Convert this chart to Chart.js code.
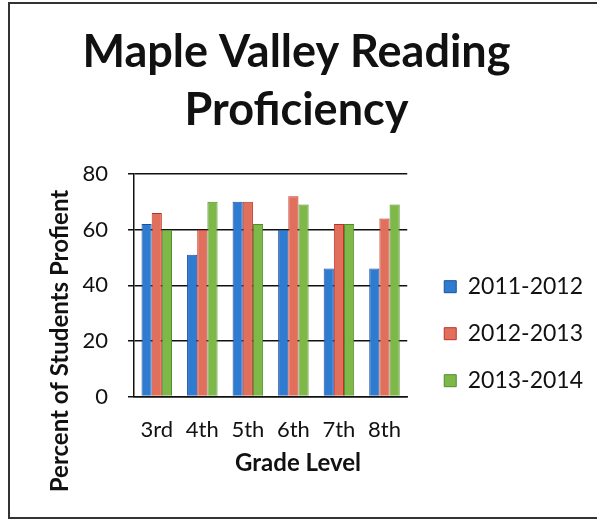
<!DOCTYPE html>
<html>
<head>
<meta charset="utf-8">
<script src="https://cdn.jsdelivr.net/npm/chart.js@4/dist/chart.umd.min.js"></script>
<style>
  html, body { margin: 0; padding: 0; background: #fff; overflow: hidden; }
  #wrap { position: relative; width: 597px; height: 521px; }
  #readingChart { display: block; }
  #frame { position: absolute; left: 8px; top: 2px; width: 600px; height: 517px; border: 2px solid #333; box-sizing: border-box; pointer-events: none; }
</style>
</head>
<body>
<div id="wrap">
  <canvas id="readingChart" width="597" height="521"></canvas>
  <div id="frame"></div>
</div>
<script>
const grades = ['3rd', '4th', '5th', '6th', '7th', '8th'];
const year1112 = [62, 51, 70, 60, 46, 46];
const year1213 = [66, 60, 70, 72, 62, 64];
const year1314 = [60, 70, 62, 69, 62, 69];
const yTicks = [0, 20, 40, 60, 80];

const fontFamily = 'Lato, Carlito, Calibri, sans-serif';

// both axis titles sit off-centre in the original, so draw them by hand
const axisTitlePlugin = {
  id: 'axisTitles',
  afterDraw(chart) {
    const { ctx } = chart;
    ctx.save();
    ctx.fillStyle = '#111';
    ctx.textAlign = 'center';
    ctx.textBaseline = 'middle';
    ctx.font = `bold 24px ${fontFamily}`;
    ctx.fillText('Grade Level', 298, 463);
    ctx.translate(60, 341);
    ctx.rotate(-Math.PI / 2);
    ctx.font = `bold 24px ${fontFamily}`;
    ctx.fillText('Percent of Students Profient', 0, 0);
    ctx.restore();
  }
};

const ctx = document.getElementById('readingChart').getContext('2d');
new Chart(ctx, {
  type: 'bar',
  data: {
    labels: grades,
    datasets: [
      { label: '2011-2012', data: year1112, backgroundColor: '#2f7bd0', borderColor: '#1f4f9e', borderWidth: 1 },
      { label: '2012-2013', data: year1213, backgroundColor: '#e0705c', borderColor: '#c0302a', borderWidth: 1 },
      { label: '2013-2014', data: year1314, backgroundColor: '#7db848', borderColor: '#4f8f2a', borderWidth: 1 }
    ]
  },
  options: {
    responsive: false,
    animation: false,
    layout: { padding: { left: 0, right: 4, top: 0, bottom: 66 } },
    datasets: { bar: { categoryPercentage: 0.67, barPercentage: 1.0 } },
    plugins: {
      title: {
        display: true,
        text: ['Maple Valley Reading', 'Proficiency'],
        color: '#111',
        font: { family: fontFamily, size: 45, weight: 'bold', lineHeight: 1.3 },
        padding: { top: 23, bottom: 34 }
      },
      legend: {
        position: 'right',
        maxWidth: 200,
        title: { display: true, text: ' ', font: { size: 12, lineHeight: 1.2 }, padding: { top: 198, bottom: 0 } },
        labels: {
          color: '#111',
          font: { family: fontFamily, size: 23 },
          boxWidth: 12,
          boxHeight: 12,
          padding: 24
        }
      },
      tooltip: { enabled: false }
    },
    scales: {
      x: {
        grid: { display: false },
        border: { color: '#111', width: 1.5 },
        ticks: { color: '#111', font: { family: fontFamily, size: 22 }, padding: 12, maxRotation: 0 }
      },
      y: {
        min: 0,
        max: 80,
        afterBuildTicks: axis => { axis.ticks = yTicks.map(v => ({ value: v })); },
        afterFit: s => { s.width = 134; },
        grid: { color: '#111', lineWidth: 1.5, tickLength: 6 },
        border: { color: '#111', width: 1.5 },
        ticks: { color: '#111', font: { family: fontFamily, size: 22 }, padding: 20 }
      },
      gap: {
        type: 'linear',
        position: 'right',
        grid: { display: false },
        border: { display: false },
        ticks: { display: false },
        afterFit: s => { s.width = 13; }
      }
    }
  },
  plugins: [axisTitlePlugin]
});
</script>
</body>
</html>
